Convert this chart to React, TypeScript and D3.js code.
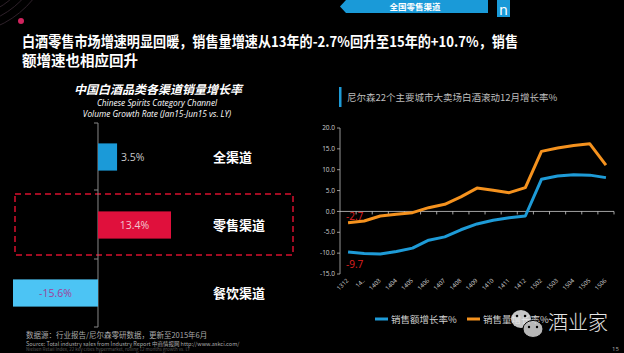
import React from "react";
import * as d3 from "d3";

// left chart: channel growth (Jan15-Jun15 vs LY)
const channels = ["全渠道", "零售渠道", "餐饮渠道"];
const channelGrowth = [3.5, 13.4, -15.6];
const channelColors = ["#1b9ad8", "#e0103c", "#4cc4f4"];
const channelLabelColors = ["#c8c8c8", "#f2c6cf", "#a0409a"];

// right chart: rolling 12-month growth, 22 cities hypermarkets
const months = [
  "1312", "14..", "1403", "1404", "1405", "1406", "1407", "1408", "1409",
  "1410", "1411", "1412", "1502", "1503", "1504", "1505", "1506",
];
const salesValue = [
  -9.7, -10.1, -10.2, -9.6, -8.8, -6.9, -6.1, -4.4, -3.0, -2.1, -1.5, -1.1,
  7.7, 8.5, 8.8, 8.7, 8.1,
];
const salesVolume = [
  -2.7, -2.3, -1.1, -0.7, -0.3, 0.9, 1.7, 3.5, 5.6, 5.1, 4.5, 5.7, 14.4,
  15.2, 15.8, 16.2, 11.1,
];
const yTicks = [20, 15, 10, 5, 0, -5, -10, -15];
const seriesNames = ["销售额增长率%", "销售量增长率%"];
const seriesColors = ["#1e9bd7", "#f5921e"];

const CJK = "'Noto Sans CJK SC', 'Noto Sans', sans-serif";

const App = () => {
  // left bars
  const yBand = d3.scaleBand().domain(channels).range([123, 327]).paddingInner(0.6).paddingOuter(0.3);
  const xBar = d3.scaleLinear().domain([-15.6, 13.4]).range([13, 171]);
  const x0 = xBar(0);
  const bandEdges = [123, 190, 259, 327];

  // right lines
  const xPos = d3.scaleBand().domain(months).range([340, 614]);
  const yLin = d3.scaleLinear().domain([-15, 20]).range([274, 128]);
  const cx = (i: number) => (xPos(months[i]) as number) + xPos.bandwidth() / 2;
  const line = d3
    .line<number>()
    .x((_, i) => cx(i))
    .y((d) => yLin(d));

  return (
    <svg
      width={624}
      height={353}
      style={{ position: "absolute", left: 0, top: 0, background: "#000" }}
      fontFamily={CJK}
    >
      <rect width={624} height={353} fill="#000" />

      {/* decorative arcs top-left */}
      <g fill="none" stroke="#3a2a35" strokeWidth={0.8}>
        <circle cx={-40} cy={-60} r={70} />
        <circle cx={-40} cy={-60} r={78} />
        <circle cx={-40} cy={-60} r={86} />
        <circle cx={-40} cy={-60} r={94} />
      </g>
      <circle cx={21} cy={21} r={3} fill="#d0245e" />

      {/* top banner */}
      <path d="M346,0 L488,0 L488,13 L346,13 L340,6.5 Z" fill="#1a9ad8" />
      <text x={415} y={10} fill="#fff" fontSize={8.5} fontWeight="bold" textAnchor="middle">
        全国零售渠道
      </text>
      <rect x={497} y={0} width={13} height={17} fill="#1a9ad8" />
      <text x={503.5} y={15} fill="#fff" fontSize={14} textAnchor="middle" fontFamily="'DejaVu Sans', sans-serif">
        n
      </text>

      {/* headline */}
      <g fill="#fff" fontSize={14.5} fontWeight="bold">
        <text x={22} y={47} textLength={496} lengthAdjust="spacingAndGlyphs">
          白酒零售市场增速明显回暖，销售量增速从13年的-2.7%回升至15年的+10.7%，销售
        </text>
        <text x={22} y={66}>额增速也相应回升</text>
      </g>

      {/* left chart title */}
      <g fill="#fff" textAnchor="middle" fontStyle="italic">
        <text x={158} y={94} fontSize={12} fontWeight="bold">
          中国白酒品类各渠道销量增长率
        </text>
        <text x={157} y={106} fontSize={8.3} fontFamily="'Open Sans', sans-serif">
          Chinese Spirits Category Channel
        </text>
        <text x={157} y={117} fontSize={8.3} fontFamily="'Open Sans', sans-serif">
          Volume Growth Rate (Jan15-Jun15 vs. LY)
        </text>
      </g>

      {/* dashed highlight */}
      <rect
        x={15}
        y={194}
        width={278}
        height={61}
        fill="none"
        stroke="#d8102e"
        strokeWidth={1.5}
        strokeDasharray="6,4"
      />

      {/* left axis */}
      <line x1={x0} x2={x0} y1={123} y2={327} stroke="#888" strokeWidth={1} />
      {bandEdges.map((y) => (
        <line key={y} x1={x0 - 4} x2={x0} y1={y} y2={y} stroke="#888" />
      ))}

      {channels.map((c, i) => {
        const v = channelGrowth[i];
        const y = yBand(c) as number;
        const h = yBand.bandwidth();
        const xs = Math.min(xBar(v), x0);
        const w = Math.abs(xBar(v) - x0);
        const inside = w > 40;
        return (
          <g key={c}>
            <rect x={xs} y={y} width={w} height={h} fill={channelColors[i]} />
            <text
              x={inside ? xs + w / 2 : xs + w + 4}
              y={y + h / 2 + 4}
              textAnchor={inside ? "middle" : "start"}
              fill={channelLabelColors[i]}
              fontSize={10.5}
              fontFamily="'Open Sans', sans-serif"
            >
              {v.toFixed(1)}%
            </text>
            <text x={213} y={y + h / 2 + 5} fill="#fff" fontSize={13} fontWeight="bold">
              {c}
            </text>
          </g>
        );
      })}

      {/* footnote */}
      <text x={26} y={338} fill="#aaa" fontSize={7.5}>
        数据源：行业报告/尼尔森零研数据，更新至2015年6月
      </text>
      <text x={26} y={345.5} fill="#aaa" fontSize={5.5}>
        Source: Total industry sales from Industry Report 中商情报网 http://www.askci.com/
      </text>
      <text x={26} y={351} fill="#555" fontSize={4.5}>
        Nielsen Retail Index, 22 key cities hypermarket, rolling 12 months growth vs. LY
      </text>

      {/* right chart title */}
      <rect x={339} y={87} width={2.5} height={20} fill="#1e9bd7" />
      <text x={347} y={101} fill="#bdbdbd" fontSize={9.5}>
        尼尔森22个主要城市大卖场白酒滚动12月增长率%
      </text>

      {/* y axis */}
      <line x1={340} x2={340} y1={yLin(20)} y2={yLin(-15)} stroke="#bbb" strokeWidth={0.8} />
      {yTicks.map((t) => (
        <g key={t}>
          <line x1={337} x2={340} y1={yLin(t)} y2={yLin(t)} stroke="#bbb" strokeWidth={0.8} />
          <text x={335} y={yLin(t) + 2.2} textAnchor="end" fill="#d0d0d0" fontSize={6.5} fontFamily="'Open Sans', sans-serif">
            {t.toFixed(1)}
          </text>
        </g>
      ))}

      {/* x axis at zero */}
      <line x1={340} x2={614} y1={yLin(0)} y2={yLin(0)} stroke="#ccc" strokeWidth={0.8} />
      {months.map((m) => (
        <line
          key={m}
          x1={(xPos(m) as number) + xPos.bandwidth()}
          x2={(xPos(m) as number) + xPos.bandwidth()}
          y1={yLin(0)}
          y2={yLin(0) + 3}
          stroke="#ccc"
          strokeWidth={0.8}
        />
      ))}
      {months.map((m, i) => (
        <text
          key={m}
          transform={`translate(${cx(i) + 1},${281}) rotate(-45)`}
          textAnchor="end"
          fill="#d0d0d0"
          fontSize={6}
          fontFamily="'Open Sans', sans-serif"
        >
          {m}
        </text>
      ))}

      {/* lines */}
      <path d={line(salesVolume) || ""} fill="none" stroke={seriesColors[1]} strokeWidth={3} strokeLinejoin="round" />
      <path d={line(salesValue) || ""} fill="none" stroke={seriesColors[0]} strokeWidth={3} strokeLinejoin="round" />

      {/* data labels */}
      <text x={346} y={220} fill="#e02020" fontSize={10} fontFamily="'Open Sans', sans-serif">
        {salesVolume[0].toFixed(1)}
      </text>
      <text x={346} y={268} fill="#e02020" fontSize={10} fontFamily="'Open Sans', sans-serif">
        {salesValue[0].toFixed(1)}
      </text>

      {/* legend */}
      {seriesNames.map((s, i) => {
        const lx = i === 0 ? 375 : 467;
        return (
          <g key={s}>
            <line x1={lx} x2={lx + 13} y1={319} y2={319} stroke={seriesColors[i]} strokeWidth={3} />
            <text x={lx + 16} y={323} fill="#cfcfcf" fontSize={9.5}>
              {s}
            </text>
          </g>
        );
      })}

      {/* watermark */}
      <g opacity={0.85}>
        <ellipse cx={521} cy={319} rx={10} ry={9} fill="#e8e8e8" />
        <ellipse cx={533} cy={329} rx={10} ry={8.5} fill="#d8d8d8" stroke="#000" strokeWidth={1} />
        <circle cx={517} cy={316} r={1.3} fill="#000" />
        <circle cx={525} cy={316} r={1.3} fill="#000" />
        <circle cx={529} cy={327} r={1.2} fill="#000" />
        <circle cx={537} cy={327} r={1.2} fill="#000" />
      </g>
      <text x={548} y={330} fill="#e6e6e6" fontSize={20} fontWeight="300">
        酒业家
      </text>

      <text x={612} y={351} fill="#aaa" fontSize={6} fontFamily="'Open Sans', sans-serif">
        15
      </text>
    </svg>
  );
};

export default App;
